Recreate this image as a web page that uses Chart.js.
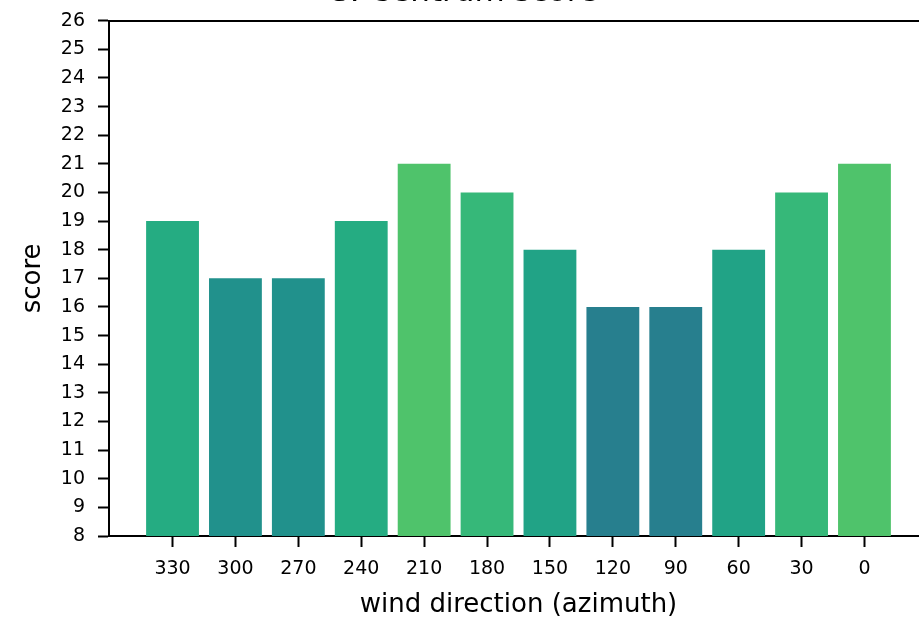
<!DOCTYPE html>
<html>
<head>
<meta charset="utf-8">
<script src="https://cdn.jsdelivr.net/npm/chart.js@4.4.1/dist/chart.umd.min.js"></script>
<style>
  html, body { margin: 0; padding: 0; background: #fff; overflow: hidden; width: 919px; height: 622px; }
  /* the plot runs a little past the right and top edges of the page */
  canvas { display: block; margin-top: -26px; }
</style>
</head>
<body>
<canvas id="score-chart" width="928" height="648"></canvas>
<script>
// wind direction (azimuth) of each bar and its score
const directions = [330, 300, 270, 240, 210, 180, 150, 120, 90, 60, 30, 0];
const scores = [19, 17, 17, 19, 21, 20, 18, 16, 16, 18, 20, 21];
const yTicks = [8, 9, 10, 11, 12, 13, 14, 15, 16, 17, 18, 19, 20, 21, 22, 23, 24, 25, 26];

// bar colour depends on the score (viridis-like)
const scoreColors = {
  16: '#277f8e',
  17: '#21918c',
  18: '#21a386',
  19: '#25ac82',
  20: '#36b879',
  21: '#4fc36b'
};

Chart.defaults.font.family = '"DejaVu Sans", sans-serif';
Chart.defaults.color = '#000';

const ctx = document.getElementById('score-chart').getContext('2d');

const scoreChart = new Chart(ctx, {
  type: 'bar',
  data: {
    datasets: [{
      label: 'score',
      data: scores.map((s, i) => ({ x: i, y: s })),
      backgroundColor: scores.map(s => scoreColors[s]),
      borderWidth: 0,
      categoryPercentage: 1,
      barPercentage: 0.84
    }]
  },
  options: {
    responsive: false,
    animation: false,
    layout: {
      padding: 0
    },
    plugins: {
      legend: { display: false },
      tooltip: { enabled: false },
      title: {
        display: true,
        text: 'S. Centrum score',
        color: '#000',
        font: { size: 31, weight: 'normal' },
        padding: { top: 0, bottom: 9.5 }
      }
    },
    scales: {
      x: {
        type: 'linear',
        position: 'bottom',
        offset: false,
        min: -1.01,
        max: 12.01,
        afterBuildTicks: scale => {
          scale.ticks = directions.map((d, i) => ({ value: i }));
        },
        afterFit: scale => { scale.height = 86; },
        ticks: {
          callback: (value) => directions[value],
          font: { size: 19 },
          padding: 11,
          maxRotation: 0,
          autoSkip: false
        },
        grid: {
          offset: false,
          drawOnChartArea: false,
          drawTicks: true,
          tickLength: 11,
          tickWidth: 2,
          tickColor: '#000'
        },
        border: { display: true, color: '#000', width: 2 },
        title: {
          display: true,
          text: 'wind direction (azimuth)',
          font: { size: 26 },
          padding: { top: 0, bottom: 1 }
        }
      },
      xTop: {
        type: 'linear',
        position: 'top',
        offset: false,
        min: -1.01,
        max: 12.01,
        afterFit: scale => { scale.height = 0; },
        ticks: { display: false },
        grid: { display: false, drawTicks: false },
        border: { display: true, color: '#000', width: 2 }
      },
      y: {
        type: 'linear',
        min: 8,
        max: 26,
        afterBuildTicks: scale => {
          scale.ticks = yTicks.map(v => ({ value: v }));
        },
        afterFit: scale => { scale.width = 109; },
        ticks: {
          font: { size: 19 },
          padding: 13,
          autoSkip: false
        },
        grid: {
          drawOnChartArea: false,
          drawTicks: true,
          tickLength: 11,
          tickWidth: 2,
          tickColor: '#000'
        },
        border: { display: true, color: '#000', width: 2 },
        title: {
          display: true,
          text: 'score',
          font: { size: 26 },
          padding: { top: 18, bottom: 0 }
        }
      }
    }
  }
});
</script>
</body>
</html>
